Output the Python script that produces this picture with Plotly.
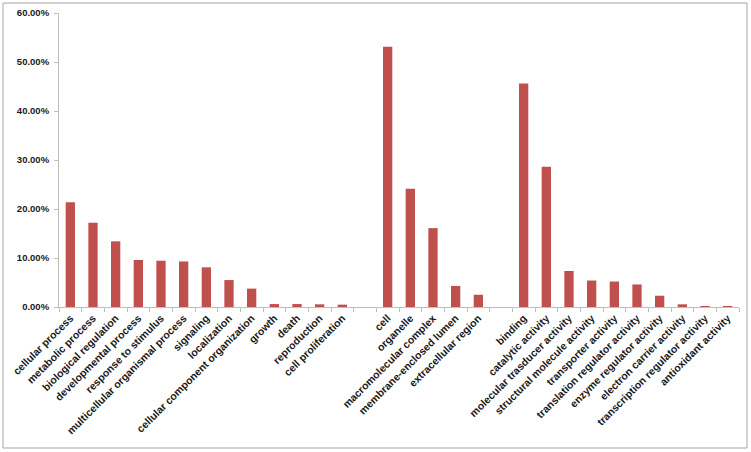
import plotly.graph_objects as go

categories = [
    "cellular process", "metabolic process", "biological regulation",
    "developmental process", "response to stimulus", "multicellular organismal process",
    "signaling", "localization", "cellular component organization", "growth", "death",
    "reproduction", "cell proliferation", " ",
    "cell", "organelle", "macromolecular complex", "membrane-enclosed lumen",
    "extracellular region", "  ",
    "binding", "catalytic activity", "molecular trasducer activity",
    "structural molecule activity", "transporter activity",
    "translation regulator activity", "enzyme regulator activity",
    "electron carrier activity", "transcription regulator activity", "antioxidant activity",
]
values = [
    21.4, 17.2, 13.4, 9.6, 9.45, 9.3, 8.1, 5.5, 3.75, 0.6, 0.6, 0.55, 0.48, None,
    53.1, 24.15, 16.1, 4.3, 2.5, None,
    45.6, 28.6, 7.35, 5.4, 5.2, 4.6, 2.3, 0.55, 0.2, 0.2,
]
yvals = [None if v is None else v / 100 for v in values]

fig = go.Figure(go.Bar(x=categories, y=yvals, marker=dict(color="#C0504D", line=dict(width=0))))

W, H = 751, 452
l, r, t, b = 59, 12, 13, 145
pw, ph = W - l - r, H - t - b

def px2paper_x(px):
    return (px - l) / pw

def px2paper_y(py):
    return (H - b - py) / ph

fig.add_shape(type="rect", xref="paper", yref="paper",
              x0=px2paper_x(3), x1=px2paper_x(747), y0=px2paper_y(448), y1=px2paper_y(3),
              line=dict(color="#A6A6A6", width=1), layer="below")

fig.update_layout(
    width=W, height=H,
    margin=dict(l=l, r=r, t=t, b=b, autoexpand=False),
    plot_bgcolor="white", paper_bgcolor="white",
    bargap=0.59, showlegend=False,
    font=dict(family="Liberation Sans, Arial, sans-serif", size=10, color="#1a1a1a", weight="bold"),
)
fig.update_xaxes(
    type="category", tickangle=-45, tickson="boundaries", automargin=False,
    ticks="outside", ticklen=4, tickcolor="#BFBFBF",
    showline=True, linecolor="#BFBFBF", linewidth=1, showgrid=False,
    tickfont=dict(size=10.5, weight="bold"),
)
fig.update_yaxes(
    range=[0, 0.6], dtick=0.1, tickformat=".2%", automargin=False,
    ticks="outside", ticklen=4, tickcolor="#BFBFBF", ticklabelstandoff=3,
    showline=True, linecolor="#BFBFBF", linewidth=1, showgrid=False, zeroline=False,
    tickfont=dict(size=9.5, weight="bold"),
)

fig.write_html("out.html", config={"displayModeBar": False},
               post_script="document.body.style.margin='0';document.body.style.overflow='hidden';")
